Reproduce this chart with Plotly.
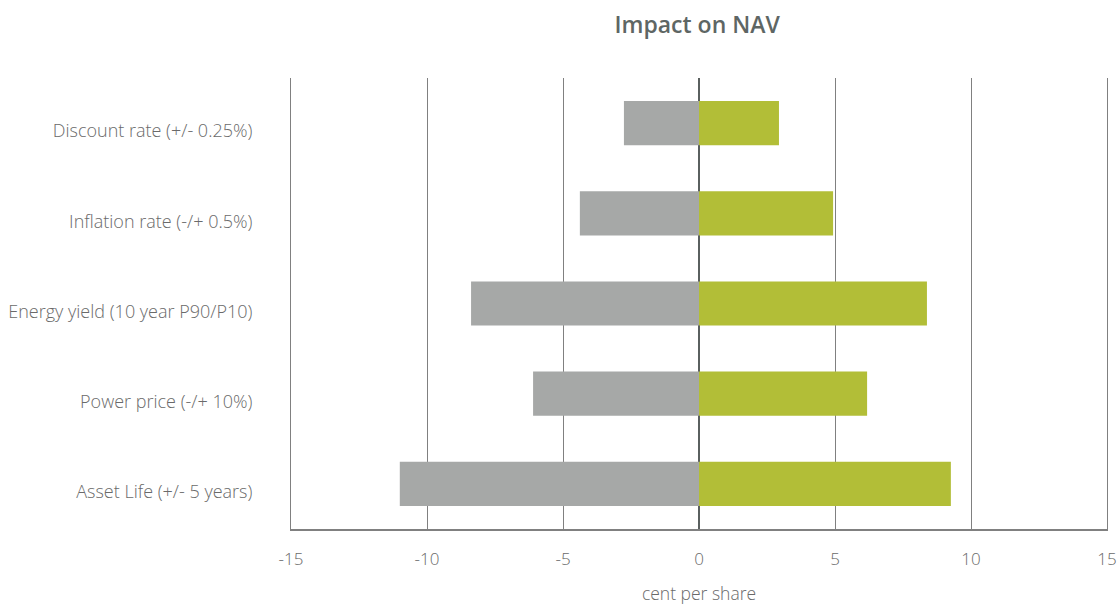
import plotly.graph_objects as go

categories = ["Discount rate (+/- 0.25%)", "Inflation rate (-/+ 0.5%)",
              "Energy yield (10 year P90/P10)", "Power price (-/+ 10%)",
              "Asset Life (+/- 5 years)"]
negative = [-2.76, -4.38, -8.38, -6.1, -11.0]
positive = [2.94, 4.93, 8.38, 6.18, 9.26]
tick_vals = [-15, -10, -5, 0, 5, 10, 15]
tick_text = ["-15", "-10", "-5", "0", "5", "10", "15"]

FONT = "Open Sans, Noto Sans, sans-serif"
TXT = "#6A6A6A"

fig = go.Figure()
fig.add_trace(go.Bar(y=categories, x=negative, orientation="h",
                     marker=dict(color="#A6A8A7", line=dict(width=0)), name="Down"))
fig.add_trace(go.Bar(y=categories, x=positive, orientation="h",
                     marker=dict(color="#B2BE37", line=dict(width=0)), name="Up"))

fig.update_layout(
    width=1119, height=605,
    barmode="relative", bargap=0.51,
    showlegend=False,
    paper_bgcolor="white", plot_bgcolor="white",
    margin=dict(l=291, r=12, t=78, b=76, autoexpand=False),
    font=dict(family=FONT, color=TXT, size=17.5, weight=300),
    title=dict(text="Impact on NAV", x=0.623, xanchor="center", y=0.958, yanchor="middle",
               font=dict(size=23, color="#5E6664", family=FONT, weight=600)),
    xaxis=dict(range=[-15, 15], tickvals=tick_vals, ticktext=tick_text,
               showgrid=True, gridcolor="#808080", gridwidth=1,
               zeroline=True, zerolinecolor="#5A605F", zerolinewidth=2,
               showline=True, linecolor="#808080", linewidth=1.5,
               ticks="", ticklabelstandoff=14, automargin=False,
               tickfont=dict(size=17, color=TXT, weight=300),
               title=dict(text="cent per share", standoff=28,
                          font=dict(size=17.5, color=TXT, weight=300))),
    yaxis=dict(categoryorder="array", categoryarray=categories[::-1], showgrid=False,
               ticks="", ticklabelstandoff=34, ticklabelshift=8, showline=True, mirror=True,
               linecolor="#808080", linewidth=1, zeroline=False, automargin=False,
               tickfont=dict(size=18, color=TXT, weight=300)),
)
fig.write_html("out.html", config={"displayModeBar": False},
               post_script="document.body.style.margin='0';")
